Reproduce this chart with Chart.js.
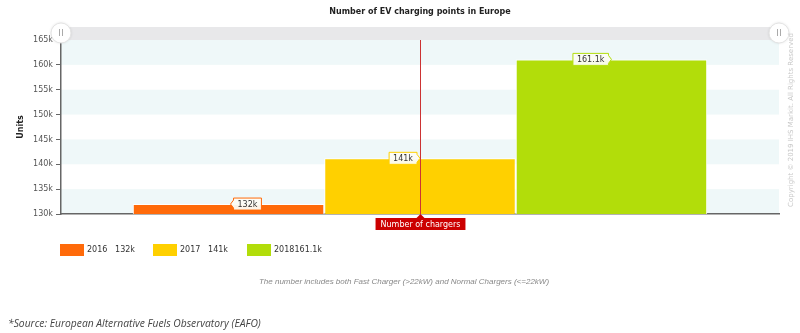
<!DOCTYPE html>
<html>
<head>
<meta charset="utf-8">
<script src="https://cdn.jsdelivr.net/npm/chart.js@4"></script>
<style>
  body { margin: 0; background: #fff; }
  #wrap { position: relative; width: 800px; height: 333px; overflow: hidden; }
  #chart { position: absolute; left: 0; top: 0; }
  .legend { position: absolute; top: 244px; font: 8px "DejaVu Sans", sans-serif; color: #333; }
  .legend .sw { position: absolute; left: 0; top: 0; width: 24px; height: 12px; }
  .legend .yr { position: absolute; left: 27px; top: 0; line-height: 12px; white-space: nowrap; }
  .legend .val { position: absolute; left: 27px; width: 48px; text-align: right; top: 0; line-height: 12px; white-space: nowrap; }
  #note { position: absolute; top: 277px; left: 0; width: 808px; text-align: center; font: italic 8px "Liberation Sans", Arial, sans-serif; color: #888; }
  #source { position: absolute; top: 316px; left: 8px; font: italic 10.3px "Open Sans", sans-serif; color: #444; white-space: nowrap; }
</style>
</head>
<body>
<div id="wrap">
  <canvas id="chart" width="800" height="333"></canvas>
  <div id="legend"></div>
  <div id="note">The number includes both Fast Charger (&gt;22kW) and Normal Chargers (&lt;=22kW)</div>
  <div id="source">*Source: European Alternative Fuels Observatory (EAFO)</div>
</div>
<script>
// data
const categories = ['Number of chargers'];
const years = ['2016', '2017', '2018'];
const values = [132000, 141200, 161100];
const valueLabels = ['132k', '141k', '161.1k'];
const colors = ['#FF6A0A', '#FFD000', '#B2DD0A'];
const yTicks = [130000, 135000, 140000, 145000, 150000, 155000, 160000, 165000];

// legend (html)
const legendEl = document.getElementById('legend');
const legendX = [60, 153, 247];
years.forEach((y, i) => {
  const d = document.createElement('div');
  d.className = 'legend';
  d.style.left = legendX[i] + 'px';
  d.innerHTML = '<div class="sw" style="background:' + colors[i] + '"></div>' +
    '<span class="yr">' + y + '</span><span class="val">' + valueLabels[i] + '</span>';
  legendEl.appendChild(d);
});

// background bands, navigator strip, crosshair, callouts
const decor = {
  id: 'decor',
  beforeDraw(chart) {
    const { ctx, chartArea: a, scales } = chart;
    const ys = scales.y;
    ctx.save();
    for (let i = 0; i < yTicks.length - 1; i += 2) {
      const t = ys.getPixelForValue(yTicks[i + 1]);
      const b = ys.getPixelForValue(yTicks[i]);
      ctx.fillStyle = '#eff8f9';
      ctx.fillRect(a.left, t, a.right - a.left, b - t);
    }
    ctx.fillStyle = '#e8e8ea';
    ctx.fillRect(a.left, a.top - 13, a.right - a.left, 13);
    ctx.restore();
  },
  afterDatasetsDraw(chart) {
    const { ctx, chartArea: a, scales } = chart;
    ctx.save();
    // title
    ctx.fillStyle = '#222';
    ctx.font = 'bold 8px "DejaVu Sans", sans-serif';
    ctx.textAlign = 'center';
    ctx.textBaseline = 'middle';
    ctx.fillText('Number of EV charging points in Europe', (a.left + a.right) / 2, 12);

    // navigator handles
    [a.left, a.right].forEach(hx => {
      ctx.beginPath();
      ctx.arc(hx, a.top - 7, 10, 0, Math.PI * 2);
      ctx.fillStyle = '#fff';
      ctx.shadowColor = 'rgba(0,0,0,0.15)';
      ctx.shadowBlur = 3;
      ctx.fill();
      ctx.shadowBlur = 0;
      ctx.strokeStyle = '#e4e4e4';
      ctx.lineWidth = 1;
      ctx.stroke();
      ctx.strokeStyle = '#aaa';
      ctx.beginPath();
      ctx.moveTo(hx - 1.5, a.top - 11); ctx.lineTo(hx - 1.5, a.top - 4);
      ctx.moveTo(hx + 1.5, a.top - 11); ctx.lineTo(hx + 1.5, a.top - 4);
      ctx.stroke();
    });

    // callouts
    ctx.font = '8px "DejaVu Sans", sans-serif';
    chart.data.datasets.forEach((ds, i) => {
      const bar = chart.getDatasetMeta(i).data[0];
      const txt = valueLabels[i];
      const w = ctx.measureText(txt).width + 8;
      const h = 12;
      const cy = bar.y;
      const tip = bar.x + (i === 0 ? 2 : 0);
      const left = i === 0 ? tip + 3 : tip - 3 - w;
      ctx.beginPath();
      if (i === 0) {
        ctx.moveTo(tip, cy);
        ctx.lineTo(left, cy - 4);
        ctx.lineTo(left, cy - h / 2);
        ctx.lineTo(left + w, cy - h / 2);
        ctx.lineTo(left + w, cy + h / 2);
        ctx.lineTo(left, cy + h / 2);
        ctx.lineTo(left, cy + 4);
      } else {
        ctx.moveTo(tip, cy);
        ctx.lineTo(left + w, cy + 4);
        ctx.lineTo(left + w, cy + h / 2);
        ctx.lineTo(left, cy + h / 2);
        ctx.lineTo(left, cy - h / 2);
        ctx.lineTo(left + w, cy - h / 2);
        ctx.lineTo(left + w, cy - 4);
      }
      ctx.closePath();
      ctx.fillStyle = 'rgba(252,252,245,0.95)';
      ctx.fill();
      ctx.strokeStyle = colors[i];
      ctx.lineWidth = 1;
      ctx.stroke();
      ctx.fillStyle = '#333';
      ctx.textAlign = 'center';
      ctx.fillText(txt, left + w / 2, cy + 0.5);
    });

    // crosshair
    const cx = Math.round(scales.x.getPixelForValue(0)) + 0.5;
    ctx.strokeStyle = '#c33';
    ctx.lineWidth = 1;
    ctx.beginPath();
    ctx.moveTo(cx, a.top);
    ctx.lineTo(cx, a.bottom);
    ctx.stroke();
    ctx.font = '8px "DejaVu Sans", sans-serif';
    const lw = ctx.measureText(categories[0]).width + 10;
    const lt = a.bottom + 4;
    ctx.fillStyle = '#cc0000';
    ctx.beginPath();
    ctx.moveTo(cx, a.bottom);
    ctx.lineTo(cx + 4, lt);
    ctx.lineTo(cx + lw / 2, lt);
    ctx.lineTo(cx + lw / 2, lt + 12);
    ctx.lineTo(cx - lw / 2, lt + 12);
    ctx.lineTo(cx - lw / 2, lt);
    ctx.lineTo(cx - 4, lt);
    ctx.closePath();
    ctx.fill();
    ctx.fillStyle = '#fff';
    ctx.textAlign = 'center';
    ctx.fillText(categories[0], cx, lt + 6.5);

    // copyright
    ctx.translate(791, 120);
    ctx.rotate(-Math.PI / 2);
    ctx.fillStyle = '#c8c8c8';
    ctx.font = '7px "DejaVu Sans", sans-serif';
    ctx.fillText('Copyright \u00a9 2019 IHS Markit. All Rights Reserved', 0, 0);
    ctx.restore();
  }
};

new Chart(document.getElementById('chart'), {
  type: 'bar',
  data: {
    labels: categories,
    datasets: years.map((y, i) => ({
      label: y,
      data: [values[i]],
      backgroundColor: colors[i],
      borderColor: '#fff',
      borderWidth: 1,
      categoryPercentage: 0.8,
      barPercentage: 1.0
    }))
  },
  options: {
    responsive: false,
    animation: false,
    layout: { padding: { top: 40, right: 21, left: 0, bottom: 0 } },
    plugins: {
      legend: { display: false },
      title: { display: false },
      tooltip: { enabled: false }
    },
    scales: {
      x: {
        grid: { display: false },
        ticks: { display: false },
        border: { color: '#666', width: 1.5 },
        afterFit(s) { s.height = 119; }
      },
      y: {
        min: 130000,
        max: 165000,
        afterFit(s) { s.width = 61; },
        ticks: {
          stepSize: 5000,
          color: '#555',
          padding: 3,
          font: { family: 'DejaVu Sans', size: 8 },
          callback: v => (v / 1000) + 'k'
        },
        grid: { drawOnChartArea: false, drawTicks: true, tickLength: 5, color: '#666' },
        border: { color: '#666', width: 1.5 },
        title: {
          display: true,
          text: 'Units',
          color: '#222',
          padding: { top: 16, bottom: 0 },
          font: { family: 'DejaVu Sans', size: 8, weight: 'bold' }
        }
      }
    }
  },
  plugins: [decor]
});
</script>
</body>
</html>
